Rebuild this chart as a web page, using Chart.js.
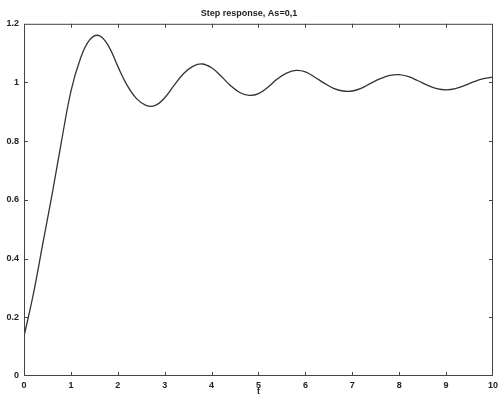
<!DOCTYPE html>
<html>
<head>
<meta charset="utf-8">
<script src="https://cdn.jsdelivr.net/npm/chart.js@4/dist/chart.umd.min.js"></script>
<style>
  html, body { margin: 0; padding: 0; background: #fff; }
  #wrap { width: 502px; height: 397px; }
</style>
</head>
<body>
<div id="wrap"><canvas id="chart" width="502" height="397"></canvas></div>
<script>
const titleText = "Step response, As=0,1";
const xLabel = "t";

// response values every 0.2 s
const tValues = [0, 0.2, 0.4, 0.6, 0.8, 1.0, 1.2, 1.4, 1.6, 1.8, 2.0, 2.2, 2.4, 2.6, 2.8, 3.0, 3.2, 3.4, 3.6, 3.8, 4.0, 4.2, 4.4, 4.6, 4.8, 5.0, 5.2, 5.4, 5.6, 5.8, 6.0, 6.2, 6.4, 6.6, 6.8, 7.0, 7.2, 7.4, 7.6, 7.8, 8.0, 8.2, 8.4, 8.6, 8.8, 9.0, 9.2, 9.4, 9.6, 9.8, 10];
const yValues = [0.135, 0.28, 0.45, 0.62, 0.80, 0.97, 1.08, 1.145, 1.16, 1.125, 1.055, 0.99, 0.945, 0.922, 0.922, 0.948, 0.99, 1.03, 1.055, 1.063, 1.05, 1.022, 0.99, 0.966, 0.956, 0.962, 0.984, 1.012, 1.032, 1.041, 1.036, 1.018, 0.998, 0.98, 0.971, 0.971, 0.981, 0.998, 1.013, 1.024, 1.027, 1.02, 1.006, 0.991, 0.979, 0.975, 0.979, 0.99, 1.003, 1.013, 1.018];

const xTicks = [0, 1, 2, 3, 4, 5, 6, 7, 8, 9, 10];
const yTicks = [0, 0.2, 0.4, 0.6, 0.8, 1, 1.2];

const points = tValues.map((t, i) => ({ x: t, y: yValues[i] }));

const tickFont = { family: "Liberation Sans, Arial, sans-serif", size: 9, weight: "bold" };

// box around the plot and inward ticks on all four sides
const frame = {
  id: "frame",
  afterDraw(chart) {
    const { ctx, chartArea: a, scales } = chart;
    ctx.save();
    ctx.strokeStyle = "#444";
    ctx.lineWidth = 1;
    ctx.strokeRect(a.left + 0.5, a.top + 0.5, a.right - a.left - 1, a.bottom - a.top - 1);
    ctx.beginPath();
    xTicks.slice(1, -1).forEach(v => {
      const px = Math.round(scales.x.getPixelForValue(v)) + 0.5;
      ctx.moveTo(px, a.bottom); ctx.lineTo(px, a.bottom - 4);
      ctx.moveTo(px, a.top); ctx.lineTo(px, a.top + 4);
    });
    yTicks.slice(1, -1).forEach(v => {
      const py = Math.round(scales.y.getPixelForValue(v)) + 0.5;
      ctx.moveTo(a.left, py); ctx.lineTo(a.left + 4, py);
      ctx.moveTo(a.right, py); ctx.lineTo(a.right - 4, py);
    });
    ctx.stroke();
    ctx.restore();
  }
};

new Chart(document.getElementById("chart"), {
  type: "line",
  data: {
    datasets: [{
      data: points,
      borderColor: "#333",
      borderWidth: 1.3,
      pointRadius: 0,
      fill: false,
      tension: 0.4
    }]
  },
  options: {
    responsive: false,
    animation: false,
    layout: { padding: { left: 0, right: 4, top: 0, bottom: 0 } },
    plugins: {
      legend: { display: false },
      tooltip: { enabled: false },
      title: {
        display: true,
        text: titleText,
        color: "#222",
        font: { family: "Liberation Sans, Arial, sans-serif", size: 9, weight: "bold" },
        padding: { top: 8, bottom: 5 }
      }
    },
    scales: {
      x: {
        type: "linear",
        min: 0, max: 10,
        afterBuildTicks: s => { s.ticks = xTicks.map(v => ({ value: v })); },
        afterFit: s => { s.height = 21; },
        grid: { display: false, drawTicks: false },
        border: { display: false },
        ticks: { color: "#222", font: tickFont, padding: 4, maxRotation: 0, callback: v => String(v) },
        title: { display: true, text: xLabel, color: "#222", font: tickFont, padding: { top: 0, bottom: 0 } }
      },
      y: {
        min: 0, max: 1.2,
        afterBuildTicks: s => { s.ticks = yTicks.map(v => ({ value: v })); },
        afterFit: s => { s.width = 24; },
        grid: { display: false, drawTicks: false },
        border: { display: false },
        ticks: { color: "#222", font: tickFont, padding: 5, callback: v => String(+v.toFixed(1)) }
      }
    }
  },
  plugins: [frame]
});
</script>
</body>
</html>
